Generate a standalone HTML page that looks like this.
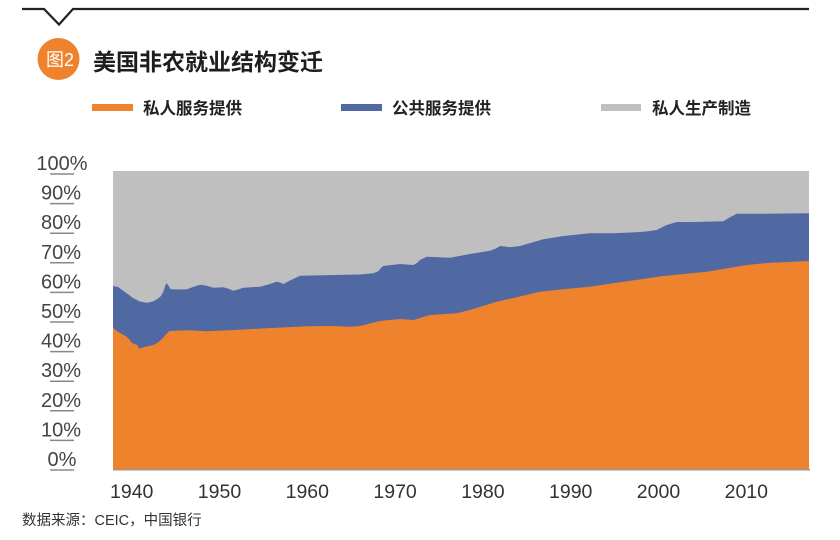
<!DOCTYPE html>
<html>
<head>
<meta charset="utf-8">
<style>
  html, body { margin: 0; padding: 0; background: #ffffff; }
  body { width: 840px; height: 540px; overflow: hidden; }
  svg { display: block; }
  .cjk { font-family: "Liberation Sans", "Noto Sans CJK SC", "WenQuanYi Zen Hei", sans-serif; }
  .num { font-family: "Liberation Sans", "DejaVu Sans", sans-serif; }
</style>
</head>
<body>
<svg width="840" height="540" viewBox="0 0 840 540" xmlns="http://www.w3.org/2000/svg">
  <rect x="0" y="0" width="840" height="540" fill="#ffffff"/>

  <!-- top rule with V notch -->
  <polyline points="22,9 44,9 59,24.5 73,9 809,9" fill="none" stroke="#222222" stroke-width="2.2" stroke-linejoin="miter"/>

  <!-- badge -->
  <circle cx="58.5" cy="59" r="21" fill="#EF822C"/>
  <text x="60" y="66" class="cjk" font-size="18" fill="#ffffff" text-anchor="middle" font-weight="normal">图2</text>

  <!-- title -->
  <text x="93" y="70" class="cjk" font-size="23" font-weight="bold" fill="#1e1e1e">美国非农就业结构变迁</text>

  <!-- legend -->
  <rect x="92" y="104" width="41" height="7" fill="#EF822C"/>
  <text x="143" y="114" class="cjk" font-size="16.5" font-weight="bold" fill="#222222">私人服务提供</text>
  <rect x="341" y="104" width="41" height="7" fill="#5169A3"/>
  <text x="392" y="114" class="cjk" font-size="16.5" font-weight="bold" fill="#222222">公共服务提供</text>
  <rect x="601" y="104" width="40" height="7" fill="#BFBFBF"/>
  <text x="652" y="114" class="cjk" font-size="16.5" font-weight="bold" fill="#222222">私人生产制造</text>

  <!-- plot area: gray (private manufacturing) -->
  <rect x="113" y="171" width="696" height="298.5" fill="#BFBFBF"/>

  <!-- blue (public services) -->
  <polygon fill="#5169A3" points="
    113,469.5 113,286 118,287 125,292 133,298 140,301.5 147,302.7 153,301.5 157,299.3 161,296 163.3,291.7
    165.5,285 166.7,283.3 168,285 170.7,289.3 178,289.5 186.7,289.3 193,287 200,284.7 206,285.5 213.3,287.7
    223.3,287.3 228,288.5 233.3,290.7 238,289.5 243.3,287.7 260,286.7 270,284 276.7,281.7 280,282.5 283.3,284
    290,280.5 300,275.7 333.3,275 360,274.5 373.3,273.3 378.3,271.3 381,268 383.3,266 400,264 413.3,265
    417,263 420,260 426.7,256.7 450,257.7 470,254 490,250.7 496,248.5 500,246 505,246.5 510,247.3 520,246
    543.3,239.3 563.3,236 590,233.3 613.3,233.3 640,232 650,231 656.7,230 666.7,225 676.7,222 693.3,222
    723.3,221.3 727,219 730,217.3 736.7,213.7 763.3,213.7 809,213.3 809,469.5"/>

  <!-- orange (private services) -->
  <polygon fill="#EF822C" points="
    113,469.5 113,327.7 116.7,331 121,333.5 126.7,336.7 129,339 131.7,342.7 136.7,345 138,346 139.3,348.7
    143.3,347.3 153.3,345 158,342.5 161.7,339.3 165,335.5 169.3,331 186.7,330.3 206.7,331.3 233.3,330
    266.7,328.3 306.7,326.3 333.3,326 350,326.7 360,326 380,321 400,319 413.3,320 430,315 456.7,313.3
    470,310 496.7,301.7 516.7,297.3 540,291.7 563.3,289.3 590,286.7 613.3,283.3 663.3,276 706.7,271.7
    746.7,265 766.7,263 809,261 809,469.5"/>

  <!-- x axis line -->
  <line x1="113" y1="469.8" x2="810" y2="469.8" stroke="#999999" stroke-width="1.5"/>

  <!-- y tick labels with underlines -->
  <g class="num" font-size="20" fill="#444444" text-anchor="middle">
    <text x="62" y="170">100%</text>
    <text x="61" y="199.6">90%</text>
    <text x="61" y="229.2">80%</text>
    <text x="61" y="258.8">70%</text>
    <text x="61" y="288.4">60%</text>
    <text x="61" y="318">50%</text>
    <text x="61" y="347.6">40%</text>
    <text x="61" y="377.2">30%</text>
    <text x="61" y="406.8">20%</text>
    <text x="61" y="436.4">10%</text>
    <text x="62" y="466">0%</text>
  </g>
  <g stroke="#888888" stroke-width="1.5">
    <line x1="50" y1="174" x2="74" y2="174"/>
    <line x1="50" y1="203.6" x2="74" y2="203.6"/>
    <line x1="50" y1="233.2" x2="74" y2="233.2"/>
    <line x1="50" y1="262.8" x2="74" y2="262.8"/>
    <line x1="50" y1="292.4" x2="74" y2="292.4"/>
    <line x1="50" y1="322" x2="74" y2="322"/>
    <line x1="50" y1="351.6" x2="74" y2="351.6"/>
    <line x1="50" y1="381.2" x2="74" y2="381.2"/>
    <line x1="50" y1="410.8" x2="74" y2="410.8"/>
    <line x1="50" y1="440.4" x2="74" y2="440.4"/>
    <line x1="50" y1="470" x2="74" y2="470"/>
  </g>

  <!-- x tick labels -->
  <g class="num" font-size="19.5" fill="#333333" text-anchor="middle">
    <text x="131.7" y="498">1940</text>
    <text x="219.5" y="498">1950</text>
    <text x="307.3" y="498">1960</text>
    <text x="395.1" y="498">1970</text>
    <text x="482.9" y="498">1980</text>
    <text x="570.7" y="498">1990</text>
    <text x="658.5" y="498">2000</text>
    <text x="746.3" y="498">2010</text>
  </g>

  <!-- source -->
  <text x="22" y="525" class="cjk" font-size="14.5" fill="#333333">数据来源：CEIC，中国银行</text>
</svg>
</body>
</html>
